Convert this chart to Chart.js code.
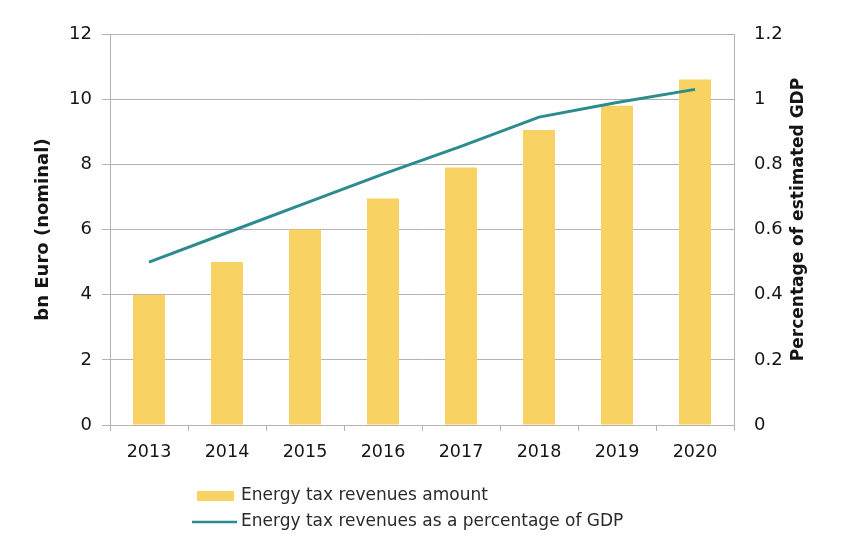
<!DOCTYPE html>
<html>
<head>
<meta charset="utf-8">
<script src="https://cdn.jsdelivr.net/npm/chart.js@4/dist/chart.umd.min.js"></script>
<style>
  html, body { margin: 0; padding: 0; background: #ffffff; }
  #wrap { width: 857px; height: 548px; }
  canvas { display: block; }
</style>
</head>
<body>
<div id="wrap"><canvas id="chart" width="857" height="548"></canvas></div>
<script>
// Energy tax revenues, 2013-2020
const years = ['2013', '2014', '2015', '2016', '2017', '2018', '2019', '2020'];
const revenueBnEuro = [4.0, 5.0, 6.0, 6.95, 7.9, 9.05, 9.8, 10.6];
const revenueShareOfGdp = [0.50, 0.59, 0.68, 0.77, 0.855, 0.945, 0.99, 1.03];
const shareTickLabels = ['0', '0.2', '0.4', '0.6', '0.8', '1', '1.2'];

const seriesNames = [
  'Energy tax revenues amount',
  'Energy tax revenues as a percentage of GDP'
];
const axisTitles = ['bn Euro (nominal)', 'Percentage of estimated GDP'];

const FONT = '"DejaVu Sans", "Liberation Sans", Arial, sans-serif';
const BAR_COLOR = '#f8d262';
const LINE_COLOR = '#2b8b8f';
const GRID_COLOR = '#b9b1b1';
const TEXT_COLOR = '#151515';

// Right-hand axis title, reading bottom to top, and a stacked legend below the plot
const annotations = {
  id: 'annotations',
  afterDraw(chart) {
    const ctx = chart.ctx;
    const area = chart.chartArea;

    ctx.save();
    ctx.font = 'bold 17px ' + FONT;
    ctx.fillStyle = TEXT_COLOR;
    ctx.textAlign = 'center';
    ctx.textBaseline = 'middle';
    ctx.translate(799, (area.top + area.bottom) / 2 - 10);
    ctx.rotate(-Math.PI / 2);
    ctx.fillText(axisTitles[1], 0, 0);
    ctx.restore();

    const ds = chart.data.datasets;
    const bars = ds.find(d => d.type === 'bar');
    const line = ds.find(d => d.type === 'line');
    const textX = 241;
    const rows = [496, 522];
    ctx.save();
    ctx.font = '17px ' + FONT;
    ctx.textAlign = 'left';
    ctx.textBaseline = 'middle';

    // bar swatch
    ctx.fillStyle = bars.backgroundColor;
    ctx.fillRect(197, rows[0] - 5, 37, 10);
    // line swatch
    ctx.strokeStyle = line.borderColor;
    ctx.lineWidth = 2.5;
    ctx.beginPath();
    ctx.moveTo(192, rows[1]);
    ctx.lineTo(237, rows[1]);
    ctx.stroke();

    ctx.fillStyle = '#2a2a2a';
    ctx.fillText(bars.label, textX, rows[0]);
    ctx.fillText(line.label, textX, rows[1]);
    ctx.restore();
  }
};

new Chart(document.getElementById('chart'), {
  type: 'bar',
  data: {
    labels: years,
    datasets: [
      {
        type: 'line',
        label: seriesNames[1],
        data: revenueShareOfGdp,
        yAxisID: 'yShare',
        borderColor: LINE_COLOR,
        backgroundColor: LINE_COLOR,
        borderWidth: 3,
        pointRadius: 0,
        tension: 0,
        order: 0
      },
      {
        type: 'bar',
        label: seriesNames[0],
        data: revenueBnEuro,
        yAxisID: 'yAmount',
        backgroundColor: BAR_COLOR,
        borderWidth: 0,
        categoryPercentage: 1,
        barPercentage: 0.41,
        order: 1
      }
    ]
  },
  options: {
    responsive: false,
    animation: false,
    devicePixelRatio: 1,
    layout: { padding: { top: 34, left: 0, right: 0, bottom: 0 } },
    plugins: {
      legend: { display: false },
      tooltip: { enabled: false }
    },
    scales: {
      x: {
        grid: {
          display: true,
          drawOnChartArea: false,
          drawTicks: true,
          tickLength: 6,
          color: GRID_COLOR,
          offset: true
        },
        border: { display: true, color: GRID_COLOR, width: 1 },
        ticks: {
          color: TEXT_COLOR,
          font: { family: FONT, size: 17.5 },
          padding: 11,
          maxRotation: 0
        },
        afterFit(scale) { scale.height = 123; }
      },
      yAmount: {
        position: 'left',
        min: 0,
        max: 12,
        ticks: {
          stepSize: 2,
          color: TEXT_COLOR,
          font: { family: FONT, size: 18 },
          padding: 10
        },
        grid: {
          color: GRID_COLOR,
          tickLength: 8,
          lineWidth: 1
        },
        border: { display: true, color: GRID_COLOR, width: 1 },
        title: {
          display: true,
          text: axisTitles[0],
          color: TEXT_COLOR,
          font: { family: FONT, size: 18, weight: 'bold' },
          padding: { top: 33, bottom: 0 }
        },
        afterFit(scale) { scale.width = 110; }
      },
      yShare: {
        position: 'right',
        min: 0,
        max: 1.2,
        ticks: {
          stepSize: 0.2,
          color: TEXT_COLOR,
          font: { family: FONT, size: 18 },
          padding: 20,
          callback: (value, index) => shareTickLabels[index]
        },
        grid: { drawOnChartArea: false, drawTicks: false },
        border: { display: true, color: GRID_COLOR, width: 1 },
        afterFit(scale) { scale.width = 123; }
      }
    }
  },
  plugins: [annotations]
});
</script>
</body>
</html>
